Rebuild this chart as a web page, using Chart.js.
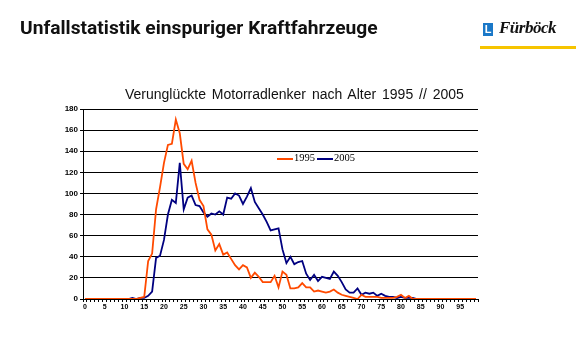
<!DOCTYPE html>
<html>
<head>
<meta charset="utf-8">
<script src="https://cdn.jsdelivr.net/npm/chart.js@4.4.1/dist/chart.umd.min.js"></script>
<style>
  html, body { margin: 0; padding: 0; background: #fff; }
  #page { position: relative; width: 576px; height: 352px; overflow: hidden; }
  #head { position: absolute; left: 20px; top: 16px; font: bold 19.2px Roboto, "Liberation Sans", sans-serif; color: #111; white-space: nowrap; }
  #logoL { position: absolute; left: 483px; top: 23px; width: 10px; height: 13px; background: #1a78c8; color: #fff; font: bold 11px "Liberation Sans", sans-serif; text-align: center; line-height: 13px; }
  #logoTxt { position: absolute; left: 499px; top: 18px; font: italic bold 17px "Liberation Serif", serif; color: #111; letter-spacing: -0.5px; }
  #bar { position: absolute; left: 480px; top: 46px; width: 96px; height: 3px; background: #f6c400; }
  #sub { position: absolute; left: 125px; top: 86px; font: 14px "Liberation Sans", Arial, sans-serif; color: #111; white-space: nowrap; word-spacing: 2px; }
  #legend { position: absolute; left: 277px; top: 152px; font: 10.5px "Liberation Serif", serif; color: #000; white-space: nowrap; }
  #legend span.ln { display: inline-block; width: 16px; height: 2px; vertical-align: middle; margin-right: 1px; }
  canvas { position: absolute; left: 0; top: 0; }
</style>
</head>
<body>
<div id="page">
  <canvas id="c" width="576" height="352"></canvas>
  <div id="head">Unfallstatistik einspuriger Kraftfahrzeuge</div>
  <div id="logoL">L</div>
  <div id="logoTxt">Fürböck</div>
  <div id="bar"></div>
  <div id="sub">Verunglückte Motorradlenker nach Alter 1995 // 2005</div>
  <div id="legend"><span class="ln" style="background:#ff4a00"></span>1995<span class="ln" style="background:#000080;margin-left:2px"></span>2005</div>
</div>
<script>
// Alter 0..99
const ages = [];
for (let i = 0; i <= 99; i++) ages.push(String(i));

const xTickLabels = ['0', '5', '10', '15', '20', '25', '30', '35', '40', '45',
    '50', '55', '60', '65', '70', '75', '80', '85', '90', '95'];
const yTicks = [0, 20, 40, 60, 80, 100, 120, 140, 160, 180];

const values1995 = [
    0, 0, 0, 0, 0, 0, 0, 0, 0, 0,
    0, 0, 0, 0, 1, 2, 36, 43, 85, 106,
    129, 146, 147, 170, 157, 128, 123, 131, 110, 94,
    88, 66, 61, 46, 52, 42, 44, 38, 32, 28,
    32, 30, 20, 25, 21, 16, 16, 16, 22, 11,
    26, 23, 10, 10, 11, 15, 11, 11, 7, 8,
    7, 6, 7, 9, 6, 4, 3, 2, 1, 0,
    4, 2, 2, 2, 2, 1, 1, 1, 1, 2,
    4, 1, 3, 0, 0, 0, 0, 0, 0, 0,
    0, 0, 0, 0, 0, 0, 0, 0, 0, 0
];

const values2005 = [
    0, 0, 0, 0, 0, 0, 0, 0, 0, 0,
    0, 0, 1, 0, 1, 1, 3, 7, 39, 41,
    56, 80, 94, 91, 129, 85, 96, 98, 89, 88,
    82, 78, 81, 80, 83, 80, 96, 95, 100, 98,
    90, 97, 105, 92, 86, 80, 73, 65, 66, 67,
    47, 34, 40, 33, 35, 36, 24, 18, 23, 17,
    21, 20, 19, 26, 22, 16, 9, 6, 6, 10,
    4, 6, 5, 6, 3, 5, 3, 2, 2, 1,
    2, 1, 1, 1, 0, 0, 0, 0, 0, 0,
    0, 0, 0, 0, 0, 0, 0, 0, 0, 0
];

const tickFont = { family: 'Liberation Sans, Arial, sans-serif', size: 8, weight: 'bold' };

new Chart(document.getElementById('c'), {
    type: 'line',
    data: {
        labels: ages,
        datasets: [
            { label: '1995', data: values1995, borderColor: '#ff4a00', borderWidth: 1.8, pointRadius: 0, tension: 0 },
            { label: '2005', data: values2005, borderColor: '#000080', borderWidth: 1.8, pointRadius: 0, tension: 0 }
        ]
    },
    options: {
        responsive: false,
        animation: false,
        layout: { padding: { left: 0, right: 98, top: 109, bottom: 33 } },
        plugins: {
            legend: { display: false },
            title: { display: false },
            tooltip: { enabled: false }
        },
        scales: {
            x: {
                offset: true,
                grid: { display: true, drawOnChartArea: false, drawTicks: true, tickLength: 3, color: '#000', offset: true },
                border: { color: '#000', width: 1 },
                ticks: {
                    autoSkip: false,
                    maxRotation: 0,
                    padding: 1,
                    color: '#000',
                    font: { ...tickFont, size: 7 },
                    callback: (v, i) => xTickLabels.includes(ages[i]) ? ages[i] : ''
                },
                afterFit: s => { s.height = 20; }
            },
            y: {
                min: 0,
                max: 180,
                afterBuildTicks: s => { s.ticks = yTicks.map(v => ({ value: v })); },
                grid: { color: '#000', lineWidth: 1, tickLength: 3 },
                border: { color: '#000', width: 1 },
                ticks: { color: '#000', font: tickFont, padding: 2 },
                afterFit: s => { s.width = 83; }
            }
        }
    }
});
</script>
</body>
</html>
